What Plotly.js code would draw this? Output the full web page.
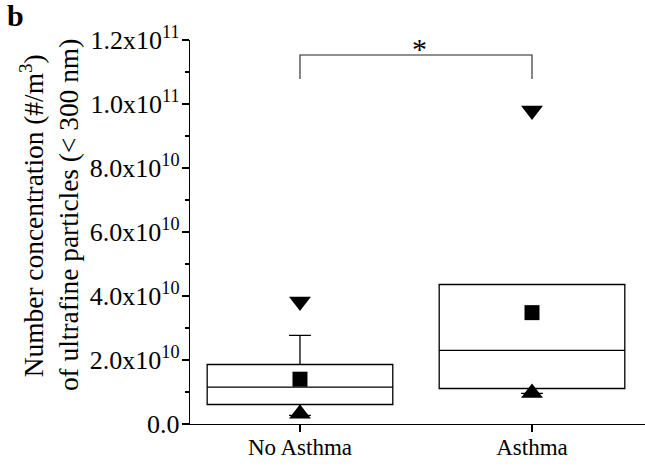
<!DOCTYPE html>
<html>
<head>
<meta charset="utf-8">
<script src="https://cdn.plot.ly/plotly-3.0.1.min.js"></script>
<style>
  html, body { margin: 0; padding: 0; background: #ffffff; }
  #chart { width: 645px; height: 466px; }
</style>
</head>
<body>
<div id="chart"></div>
<script>
// ---- Data ----
const categories = ['No Asthma', 'Asthma'];
const q1Values = [0.61e10, 1.11e10];
const medianValues = [1.15e10, 2.30e10];
const q3Values = [1.86e10, 4.36e10];
const lowerWhiskerValues = [0.27e10, 0.96e10];
const upperWhiskerValues = [2.77e10, 4.36e10];
const meanValues = [1.40e10, 3.48e10];
const maxValues = [3.83e10, 9.80e10];
const minValues = [0.32e10, 0.97e10];

const yTickValues = [0, 2e10, 4e10, 6e10, 8e10, 1.0e11, 1.2e11];
const yTickText = ['0.0', '2.0x10<sup>10</sup>', '4.0x10<sup>10</sup>', '6.0x10<sup>10</sup>',
                   '8.0x10<sup>10</sup>', '1.0x10<sup>11</sup>', '1.2x10<sup>11</sup>'];
const yMinorTickValues = [1e10, 3e10, 5e10, 7e10, 9e10, 1.1e11];

const bracketX = ['No Asthma', 'No Asthma', 'Asthma', 'Asthma'];
const bracketY = [1.078e11, 1.153e11, 1.153e11, 1.078e11];
const significanceLabel = '*';

const yTitleLine1 = 'Number concentration (#/m<sup>3</sup>)';
const yTitleLine2 = 'of ultrafine particles (< 300 nm)';
const panelLabel = '<b>b</b>';

// ---- Traces ----
const FONT = 'Liberation Serif, Times New Roman, serif';

const boxTrace = {
  type: 'box',
  x: categories,
  q1: q1Values,
  median: medianValues,
  q3: q3Values,
  lowerfence: lowerWhiskerValues,
  upperfence: upperWhiskerValues,
  width: 0.8,
  whiskerwidth: 0.118,
  fillcolor: '#ffffff',
  line: { color: '#000000', width: 1.3 },
  boxpoints: false,
  hoverinfo: 'skip',
  showlegend: false
};

const maxTrace = {
  type: 'scatter', mode: 'markers', x: categories, y: maxValues,
  marker: { symbol: 'triangle-down', size: 19, color: '#000000' },
  hoverinfo: 'skip', showlegend: false
};
const minTrace = {
  type: 'scatter', mode: 'markers', x: categories, y: minValues,
  marker: { symbol: 'triangle-up', size: 19, color: '#000000' },
  hoverinfo: 'skip', showlegend: false
};
const meanTrace = {
  type: 'scatter', mode: 'markers', x: categories, y: meanValues,
  marker: { symbol: 'square', size: 15, color: '#000000' },
  hoverinfo: 'skip', showlegend: false
};
const bracketTrace = {
  type: 'scatter', mode: 'lines', x: bracketX, y: bracketY,
  line: { color: '#222222', width: 1.1 },
  hoverinfo: 'skip', showlegend: false
};

const layout = {
  width: 645, height: 466,
  margin: { l: 190, r: 0, t: 40, b: 42, pad: 0 },
  paper_bgcolor: '#ffffff', plot_bgcolor: '#ffffff',
  font: { family: FONT, color: '#000000' },
  showlegend: false,
  xaxis: {
    type: 'category',
    categoryorder: 'array', categoryarray: categories,
    range: [-0.474, 1.487],
    showline: true, linecolor: '#000000', linewidth: 1.3,
    ticks: 'outside', ticklen: 7, tickwidth: 1.3, tickcolor: '#000000',
    ticklabelstandoff: -5,
    tickfont: { family: FONT, size: 23, color: '#000000' },
    showgrid: false, zeroline: false, fixedrange: true
  },
  yaxis: {
    range: [0, 1.2e11],
    tickmode: 'array', tickvals: yTickValues, ticktext: yTickText,
    showline: true, linecolor: '#000000', linewidth: 1.3,
    ticks: 'outside', ticklen: 7, tickwidth: 1.3, tickcolor: '#000000',
    ticklabelstandoff: -3,
    tickfont: { family: FONT, size: 26, color: '#000000' },
    minor: { tickmode: 'array', tickvals: yMinorTickValues, ticks: 'outside',
             ticklen: 4, tickwidth: 1.3, tickcolor: '#000000', showgrid: false },
    showgrid: false, zeroline: false, fixedrange: true
  },
  annotations: [
    { text: significanceLabel, x: 0.5, y: bracketY[1], xref: 'x', yref: 'y',
      xanchor: 'center', yanchor: 'bottom', showarrow: false, xshift: 4, yshift: -12,
      font: { family: FONT, size: 30, color: '#000000' } },
    { text: yTitleLine1, xref: 'paper', yref: 'paper', x: 0, y: 0.541,
      xanchor: 'center', yanchor: 'middle', xshift: -158, textangle: -90,
      showarrow: false, font: { family: FONT, size: 27.4, color: '#000000' } },
    { text: yTitleLine2, xref: 'paper', yref: 'paper', x: 0, y: 0.544,
      xanchor: 'center', yanchor: 'middle', xshift: -121, textangle: -90,
      showarrow: false, font: { family: FONT, size: 27.4, color: '#000000' } },
    { text: panelLabel, xref: 'paper', yref: 'paper', x: 0, y: 1,
      xanchor: 'center', yanchor: 'middle', xshift: -175, yshift: 25,
      showarrow: false, font: { family: FONT, size: 30, color: '#000000' } }
  ]
};

Plotly.newPlot('chart', [boxTrace, bracketTrace, meanTrace, maxTrace, minTrace], layout,
  { displayModeBar: false, staticPlot: true });
</script>
</body>
</html>
